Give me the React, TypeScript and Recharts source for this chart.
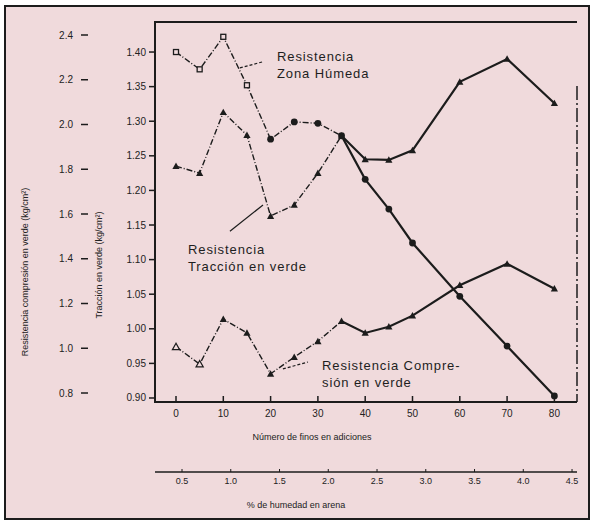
import { LineChart, Line, XAxis, YAxis, ReferenceLine, Label } from 'recharts'

// porcentaje de adición (eje inferior)
const X_VALUES = [0, 5, 10, 15, 20, 25, 30, 35, 40, 45, 50, 60, 70, 80]

// valores leídos sobre la escala central
const ZONA_HUMEDA = [1.400, 1.375, 1.422, 1.352, 1.274, 1.299, 1.297, 1.279, 1.216, 1.173, 1.124, 1.047, 0.975, 0.903]
const TRACCION = [1.235, 1.225, 1.313, 1.280, 1.163, 1.179, 1.225, 1.279, 1.245, 1.244, 1.258, 1.357, 1.390, 1.326]
const COMPRESION = [0.974, 0.949, 1.014, 0.994, 0.935, 0.959, 0.982, 1.011, 0.994, 1.003, 1.019, 1.063, 1.094, 1.058]

const X_TICKS = [0, 10, 20, 30, 40, 50, 60, 70, 80]
const X2_TICKS = [0.5, 1.0, 1.5, 2.0, 2.5, 3.0, 3.5, 4.0, 4.5]
const Y_TICKS = [0.9, 0.95, 1.0, 1.05, 1.1, 1.15, 1.2, 1.25, 1.3, 1.35, 1.4]
const Y_OUTER_TICKS = [0.8, 1.0, 1.2, 1.4, 1.6, 1.8, 2.0, 2.2, 2.4]

// rótulos de las curvas y sus líneas de referencia (en unidades de los ejes)
const NOTES = [
  { lines: ['Resistencia', 'Zona Húmeda'], from: [13.5, 1.377], to: [18.4, 1.386], dashed: true },
  { lines: ['Resistencia', 'Tracción en verde'], from: [11.4, 1.141], to: [18.4, 1.179], dashed: false },
  { lines: ['Resistencia Compre-', 'sión en verde'], from: [22.6, 0.942], to: [27.9, 0.952], dashed: true },
]
const NOTE_ANCHORS = [[277, 61], [188, 254], [322, 370]]

const X_DOMAIN = [-4.44, 84.78]
const X2_DOMAIN = [0.223, 4.551]
const Y_DOMAIN = [0.8942, 1.4434]
const Y_OUTER_DOMAIN = [0.7598, 2.4581]
const SPLIT_X = 35
const RIGHT_RULE_TOP = 1.351

const W = 596
const H = 525
const MARGIN = { top: 22, right: 19, bottom: 13, left: 0 }
const OUTER_W = 88
const MID_W = 67
const MAIN_H = 70
const SEC_H = 40
const PLOT_L = MARGIN.left + OUTER_W + MID_W
const PLOT_R = W - MARGIN.right
const PLOT_T = MARGIN.top
const PLOT_B = H - MARGIN.bottom - SEC_H - MAIN_H

const INK = '#1c1c1c'
const PAPER = '#f0dadc'
const FONT = '"Liberation Sans", Arial, sans-serif'

const data = X_VALUES.map((x, i) => ({
  x,
  humA: x <= SPLIT_X ? ZONA_HUMEDA[i] : null,
  humB: x >= SPLIT_X ? ZONA_HUMEDA[i] : null,
  traA: x <= SPLIT_X ? TRACCION[i] : null,
  traB: x >= SPLIT_X ? TRACCION[i] : null,
  comA: x <= SPLIT_X ? COMPRESION[i] : null,
  comB: x >= SPLIT_X ? COMPRESION[i] : null,
}))

// misma escala lineal que usan los ejes, para el marco y las marcas
const sx = (v: number) => PLOT_L + ((v - X_DOMAIN[0]) / (X_DOMAIN[1] - X_DOMAIN[0])) * (PLOT_R - PLOT_L)
const sy = (v: number) => PLOT_B - ((v - Y_DOMAIN[0]) / (Y_DOMAIN[1] - Y_DOMAIN[0])) * (PLOT_B - PLOT_T)
const soy = (v: number) =>
  PLOT_B - ((v - Y_OUTER_DOMAIN[0]) / (Y_OUTER_DOMAIN[1] - Y_OUTER_DOMAIN[0])) * (PLOT_B - PLOT_T)

const tri = (cx: number, cy: number, s: number) =>
  `${cx},${cy - s} ${cx - s},${cy + s * 0.8} ${cx + s},${cy + s * 0.8}`

const makeDot = (kind: string, part: 'A' | 'B') => (props: any) => {
  const { cx, cy, index, payload } = props
  const key = `${kind}-${part}-${index}`
  if (cx == null || cy == null || payload == null) return <g key={key} />
  if (part === 'B' && payload.x <= SPLIT_X) return <g key={key} />
  if (kind === 'hum') {
    if (index <= 3)
      return <rect key={key} x={cx - 2.5} y={cy - 2.5} width={5} height={5} fill={PAPER} stroke={INK} strokeWidth={1.3} />
    return <circle key={key} cx={cx} cy={cy} r={3.4} fill={INK} />
  }
  if (kind === 'com' && index <= 1)
    return <polygon key={key} points={tri(cx, cy, 3.6)} fill={PAPER} stroke={INK} strokeWidth={1.2} />
  return <polygon key={key} points={tri(cx, cy, 3.6)} fill={INK} />
}

const MainTick = (props: any) => {
  const { x, y, payload } = props
  return (
    <text x={x} y={y + 15} textAnchor="middle" fontSize={10} fill="#222">
      {payload.value}
    </text>
  )
}

const SecTick = (props: any) => {
  const { x, y, payload } = props
  return (
    <g>
      <rect x={x - 0.5} y={y - 3} width={1} height={3} fill={INK} />
      <text x={x} y={y + 12} textAnchor="middle" fontSize={9} fill="#222">
        {payload.value.toFixed(1)}
      </text>
    </g>
  )
}

const LeftTick = (props: any) => {
  const { x, y, payload, digits, gap } = props
  return (
    <text x={x - gap} y={y + 3.5} textAnchor="end" fontSize={10} fill="#222">
      {payload.value.toFixed(digits)}
    </text>
  )
}

const vTitle = (text: string, dx: number, dy: number) => (p: any) => {
  const vb = p.viewBox || { x: 0, y: PLOT_T, width: 0, height: PLOT_B - PLOT_T }
  const x = vb.x + dx
  const y = vb.y + vb.height / 2 + dy
  return (
    <text x={x} y={y} transform={`rotate(-90 ${x} ${y})`} textAnchor="middle" fontSize={9} fill="#222">
      {text}
    </text>
  )
}

const hTitle = (text: string, cx: number, dy: number) => (p: any) => {
  const vb = p.viewBox || { x: PLOT_L, y: PLOT_B, width: PLOT_R - PLOT_L, height: MAIN_H }
  return (
    <text x={cx} y={vb.y + dy} textAnchor="middle" fontSize={9} fill="#222">
      {text}
    </text>
  )
}

const noteText = (lines: string[], ax: number, ay: number) => () => (
  <g>
    {lines.map((t, i) => (
      <text key={i} x={ax} y={ay + i * 17} fontSize={13} letterSpacing={0.9} fill="#1e1e1e">
        {t}
      </text>
    ))}
  </g>
)

export default function App() {
  return (
    <div
      style={{
        position: 'relative', width: W, height: H, background: '#fff', fontFamily: FONT,
        paddingLeft: 4, paddingTop: 5, boxSizing: 'border-box',
      }}
    >
      <style>{'body{margin:0}'}</style>
      <div style={{ width: 586, height: 515, boxSizing: 'border-box', border: `2px solid ${INK}`, background: PAPER }}>
        <LineChart width={W} height={H} data={data} style={{ marginLeft: -6, marginTop: -7 }} margin={MARGIN}>
          <XAxis
            xAxisId="main" dataKey="x" type="number" domain={X_DOMAIN} ticks={X_TICKS} allowDataOverflow
            height={MAIN_H} tickSize={0} tickMargin={0} tick={<MainTick />} tickLine={false}
            stroke={INK} strokeWidth={2}
          >
            <Label content={hTitle('Número de finos en adiciones', 312, 38)} />
          </XAxis>
          <XAxis
            xAxisId="sec" dataKey="x" type="number" domain={X2_DOMAIN} ticks={X2_TICKS} allowDataOverflow
            height={SEC_H} tickSize={0} tickMargin={0} tick={<SecTick />} tickLine={false}
            stroke={INK} strokeWidth={1.5}
          >
            <Label content={hTitle('% de humedad en arena', 296, 36)} />
          </XAxis>
          <YAxis
            yAxisId="mid" type="number" domain={Y_DOMAIN} ticks={Y_TICKS} allowDataOverflow width={MID_W}
            tickSize={0} tickMargin={0} tickLine={false} tick={<LeftTick digits={2} gap={9} />}
            stroke={INK} strokeWidth={2}
          >
            <Label content={vTitle('Tracción en verde (kg/cm²)', 14, 53)} />
          </YAxis>
          <YAxis
            yAxisId="outer" type="number" domain={Y_OUTER_DOMAIN} ticks={Y_OUTER_TICKS} allowDataOverflow width={OUTER_W}
            tickSize={0} tickMargin={0} tickLine={false} tick={<LeftTick digits={1} gap={15} />}
            axisLine={false}
          >
            <Label content={vTitle('Resistencia compresión en verde (kg/cm²)', 28, 60)} />
          </YAxis>
          <ReferenceLine xAxisId="main" yAxisId="mid" y={Y_DOMAIN[1]} ifOverflow="visible" stroke={INK} strokeWidth={2} />
          <ReferenceLine
            xAxisId="main" yAxisId="mid" ifOverflow="visible"
            segment={[{ x: X_DOMAIN[1], y: RIGHT_RULE_TOP }, { x: X_DOMAIN[1], y: Y_DOMAIN[0] }]}
            stroke={INK} strokeWidth={1.5} strokeDasharray="14 3 2 3"
          />
          {NOTES.map((n, i) => (
            <ReferenceLine
              key={i} xAxisId="main" yAxisId="mid" ifOverflow="visible"
              segment={[{ x: n.from[0], y: n.from[1] }, { x: n.to[0], y: n.to[1] }]}
              stroke={INK} strokeWidth={1.2} strokeDasharray={n.dashed ? '3 2' : undefined}
            >
              <Label content={noteText(n.lines, NOTE_ANCHORS[i][0], NOTE_ANCHORS[i][1])} />
            </ReferenceLine>
          ))}
          <Line xAxisId="main" yAxisId="mid" dataKey="humA" stroke={INK} strokeWidth={1.4} strokeDasharray="6 2 1 2" dot={makeDot('hum', 'A')} isAnimationActive={false} />
          <Line xAxisId="main" yAxisId="mid" dataKey="humB" stroke={INK} strokeWidth={2.2} dot={makeDot('hum', 'B')} isAnimationActive={false} />
          <Line xAxisId="main" yAxisId="mid" dataKey="traA" stroke={INK} strokeWidth={1.4} strokeDasharray="6 2 1 2" dot={makeDot('tra', 'A')} isAnimationActive={false} />
          <Line xAxisId="main" yAxisId="mid" dataKey="traB" stroke={INK} strokeWidth={2.2} dot={makeDot('tra', 'B')} isAnimationActive={false} />
          <Line xAxisId="main" yAxisId="mid" dataKey="comA" stroke={INK} strokeWidth={1.4} strokeDasharray="6 2 1 2" dot={makeDot('com', 'A')} isAnimationActive={false} />
          <Line xAxisId="main" yAxisId="mid" dataKey="comB" stroke={INK} strokeWidth={2.2} dot={makeDot('com', 'B')} isAnimationActive={false} />
        </LineChart>
      </div>
      {/* marco izquierdo/inferior y marcas de graduación */}
      <svg width={W} height={H} style={{ position: 'absolute', left: 0, top: 0, pointerEvents: 'none' }}>
        <line x1={PLOT_L} x2={PLOT_L} y1={PLOT_T - 1} y2={PLOT_B + 1} stroke={INK} strokeWidth={2} />
        <line x1={PLOT_L - 1} x2={PLOT_R} y1={PLOT_B} y2={PLOT_B} stroke={INK} strokeWidth={2} />
        {X_TICKS.map((v) => (
          <line key={`x${v}`} x1={sx(v)} x2={sx(v)} y1={PLOT_B - 6} y2={PLOT_B} stroke={INK} strokeWidth={1.5} />
        ))}
        {Y_TICKS.map((v) => (
          <line key={`y${v}`} x1={PLOT_L - 6} x2={PLOT_L} y1={sy(v)} y2={sy(v)} stroke={INK} strokeWidth={1.5} />
        ))}
        {Y_OUTER_TICKS.map((v) => (
          <line key={`o${v}`} x1={OUTER_W - 7} x2={OUTER_W} y1={soy(v)} y2={soy(v)} stroke={INK} strokeWidth={1.5} />
        ))}
      </svg>
    </div>
  )
}
